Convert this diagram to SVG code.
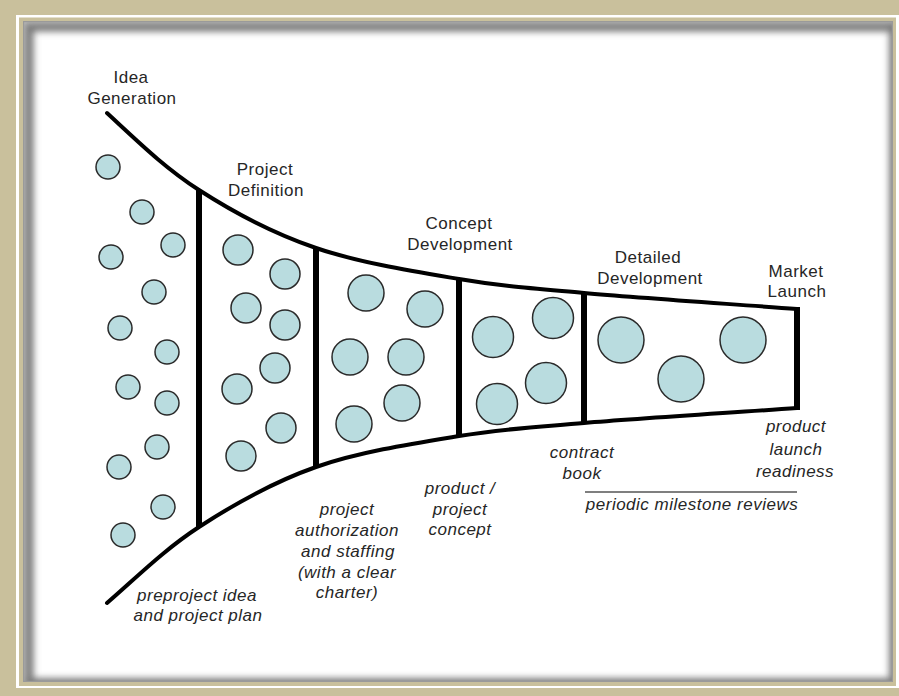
<svg xmlns="http://www.w3.org/2000/svg" width="899" height="696" viewBox="0 0 899 696">
  <defs>
    <style>
      .lbl { font-family: "Liberation Sans", Arial, sans-serif; font-size: 17px; letter-spacing: 0.5px; fill: #262626; text-anchor: middle; }
      .it { font-style: italic; }
      .bub { fill: #b9dcdf; stroke: #2a2a2a; stroke-width: 1.5; }
      .edge { fill: none; stroke: #000; stroke-width: 4; stroke-linecap: round; }
      .div { stroke: #000; stroke-width: 6; }
    </style>
    <clipPath id="panelClip">
      <rect x="23" y="21" width="870" height="661"/>
    </clipPath>
    <filter id="blur" x="-5%" y="-5%" width="110%" height="110%">
      <feGaussianBlur stdDeviation="3.5"/>
    </filter>
  </defs>

  <!-- frame -->
  <g id="frame">
    <rect x="0" y="0" width="899" height="696" fill="#c9c09c"/>
    <rect x="16" y="15" width="890" height="673" fill="#ffffff"/>
    <rect x="19" y="17.5" width="877" height="668.5" fill="#c9c09c"/>
    <rect x="23" y="21" width="870" height="661" fill="#ffffff"/>
    <g clip-path="url(#panelClip)">
      <rect x="23" y="21" width="870" height="661" fill="none" stroke="#bdbdbd" stroke-width="7" filter="url(#blur)"/>
      <rect x="29" y="27" width="866" height="657" fill="none" stroke="#777777" stroke-width="9" filter="url(#blur)"/>
      <rect x="23.5" y="21.5" width="869" height="660" fill="none" stroke="#9a9a9a" stroke-width="1.5"/>
    </g>
  </g>

  <!-- funnel outline and stage gates -->
  <g id="connectors">
    <path class="edge" d="M107,113 C137.7,141.3 164.2,167.5 199,190 C233.8,212.5 272.7,233.2 316,248 C359.3,262.8 414.3,271.5 459,279 C503.7,286.5 527.7,288 584,293 C640.3,298 726,303.7 797,309"/>
    <path class="edge" d="M107,603 C137.7,576.3 164.2,549.7 199,527 C233.8,504.3 272.7,482.2 316,467 C359.3,451.8 414.3,443.3 459,436 C503.7,428.7 527.7,427.7 584,423 C640.3,418.3 726,413 797,408"/>
    <line class="div" x1="199" y1="190" x2="199" y2="527"/>
    <line class="div" x1="316" y1="248" x2="316" y2="467"/>
    <line class="div" x1="459" y1="279" x2="459" y2="436"/>
    <line class="div" x1="584" y1="293" x2="584" y2="423"/>
    <line class="div" x1="797" y1="307" x2="797" y2="410"/>
    <line x1="585" y1="492" x2="797" y2="492" stroke="#555" stroke-width="1.5"/>
  </g>

  <!-- stage: idea generation -->
  <g id="idea-generation">
    <text class="lbl" x="131" y="83">Idea</text>
    <text class="lbl" x="132" y="104">Generation</text>
    <circle class="bub" cx="108" cy="167" r="12"/>
    <circle class="bub" cx="142" cy="212" r="12"/>
    <circle class="bub" cx="173" cy="245" r="12"/>
    <circle class="bub" cx="111" cy="257" r="12"/>
    <circle class="bub" cx="154" cy="292" r="12"/>
    <circle class="bub" cx="120" cy="328" r="12"/>
    <circle class="bub" cx="167" cy="352" r="12"/>
    <circle class="bub" cx="128" cy="387" r="12"/>
    <circle class="bub" cx="167" cy="403" r="12"/>
    <circle class="bub" cx="157" cy="447" r="12"/>
    <circle class="bub" cx="119" cy="467" r="12"/>
    <circle class="bub" cx="163" cy="507" r="12"/>
    <circle class="bub" cx="123" cy="535" r="12"/>
  </g>

  <!-- stage: project definition -->
  <g id="project-definition">
    <text class="lbl" x="265" y="175">Project</text>
    <text class="lbl" x="266" y="196">Definition</text>
    <circle class="bub" cx="238" cy="250" r="15"/>
    <circle class="bub" cx="285" cy="274" r="15"/>
    <circle class="bub" cx="246" cy="308" r="15"/>
    <circle class="bub" cx="285" cy="325" r="15"/>
    <circle class="bub" cx="275" cy="368" r="15"/>
    <circle class="bub" cx="237" cy="389" r="15"/>
    <circle class="bub" cx="281" cy="428" r="15"/>
    <circle class="bub" cx="241" cy="456" r="15"/>
  </g>

  <!-- stage: concept development -->
  <g id="concept-development">
    <text class="lbl" x="459" y="229">Concept</text>
    <text class="lbl" x="460" y="250">Development</text>
    <circle class="bub" cx="366" cy="293" r="18"/>
    <circle class="bub" cx="425" cy="309" r="18"/>
    <circle class="bub" cx="350" cy="357" r="18"/>
    <circle class="bub" cx="406" cy="357" r="18"/>
    <circle class="bub" cx="402" cy="403" r="18"/>
    <circle class="bub" cx="354" cy="424" r="18"/>
    <circle class="bub" cx="493" cy="337" r="20.5"/>
    <circle class="bub" cx="553" cy="318" r="20.5"/>
    <circle class="bub" cx="546" cy="383" r="20.5"/>
    <circle class="bub" cx="497" cy="404" r="20.5"/>
  </g>

  <!-- stage: detailed development -->
  <g id="detailed-development">
    <text class="lbl" x="648" y="263">Detailed</text>
    <text class="lbl" x="650" y="284">Development</text>
    <circle class="bub" cx="621" cy="340" r="23"/>
    <circle class="bub" cx="681" cy="379" r="23"/>
    <circle class="bub" cx="743" cy="340" r="23"/>
  </g>

  <!-- stage: market launch -->
  <g id="market-launch">
    <text class="lbl" x="796" y="277">Market</text>
    <text class="lbl" x="797" y="297">Launch</text>
  </g>

  <!-- gate labels -->
  <g id="gate-1">
    <text class="lbl it" x="197" y="601">preproject idea</text>
    <text class="lbl it" x="198" y="621">and project plan</text>
  </g>
  <g id="gate-2">
    <text class="lbl it" x="347" y="515">project</text>
    <text class="lbl it" x="347" y="536">authorization</text>
    <text class="lbl it" x="348" y="557">and staffing</text>
    <text class="lbl it" x="347" y="578">(with a clear</text>
    <text class="lbl it" x="347" y="598">charter)</text>
  </g>
  <g id="gate-3">
    <text class="lbl it" x="460" y="494">product /</text>
    <text class="lbl it" x="460" y="515">project</text>
    <text class="lbl it" x="460" y="535">concept</text>
  </g>
  <g id="gate-4">
    <text class="lbl it" x="582" y="458">contract</text>
    <text class="lbl it" x="582" y="479">book</text>
  </g>
  <g id="gate-5">
    <text class="lbl it" x="796" y="432">product</text>
    <text class="lbl it" x="796" y="455">launch</text>
    <text class="lbl it" x="795" y="477">readiness</text>
  </g>
  <g id="reviews">
    <text class="lbl it" x="692" y="510">periodic milestone reviews</text>
  </g>
</svg>
